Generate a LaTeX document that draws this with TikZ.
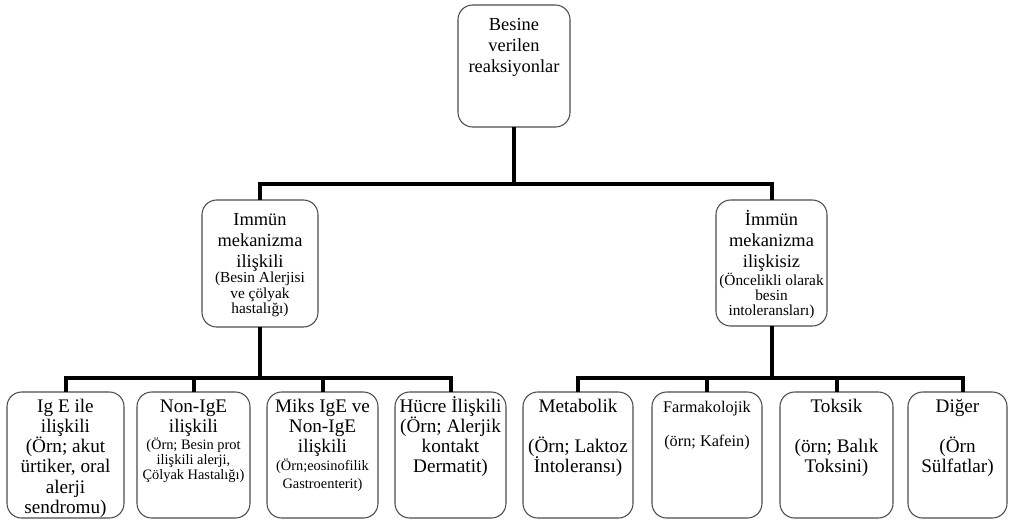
\documentclass[tikz,border=0pt]{standalone}
\usepackage{fontspec}
\setmainfont{Liberation Serif}
\tikzset{
  bx/.style={draw=black!70, line width=0.8pt, rounded corners=11pt, inner sep=0pt, outer sep=0pt, fill=white},
  conn/.style={line width=3pt, line join=miter, draw=black},
}
\newcommand\bigf{\fontsize{13.8}{16}\selectfont}
\newcommand\botf{\fontsize{14.4}{15.2}\selectfont}
\newcommand\smf{\fontsize{11.5}{11.4}\selectfont}
\newcommand\smb{\fontsize{10.8}{11.3}\selectfont}
\newcommand\boxat[6]{\node[bx] (#1) at ({(#2+#4)/2},{(#3+#5)/2}) {\parbox[c][\dimexpr(#5pt-#3pt)*3/4\relax][t]{\dimexpr(#4pt-#2pt)*3/4\relax}{\centering #6}};}
\begin{document}
\begin{tikzpicture}[x=0.75pt,y=-0.75pt]
\useasboundingbox (0,0) rectangle (1010,522);
\boxat{top}{458}{5}{570}{127}{{\bigf\rule{0pt}{18.75pt}Besine\\verilen\\reaksiyonlar\par}}
\boxat{mid1}{202}{200}{318}{327}{{\bigf\rule{0pt}{18.75pt}Immün\\mekanizma\\ilişkili\par}{\smf(Besin Alerjisi\\ve çölyak\\hastalığı)\par}}
\boxat{mid2}{716}{200}{827}{326}{{\bigf\rule{0pt}{18.75pt}İmmün\\mekanizma\\ilişkisiz\par}{\smf(Öncelikli olarak\\besin\\intoleransları)\par}}
\boxat{b1}{7}{392}{124}{518}{{\botf\rule{0pt}{15pt}Ig E ile\\ilişkili\\(Örn; akut\\ürtiker, oral\\alerji\\sendromu)\par}}
\boxat{b2}{137}{392}{250}{518}{{\botf\rule{0pt}{15pt}Non-IgE\\ilişkili\par}{\smb(Örn; Besin prot\\ilişkili alerji,\\Çölyak Hastalığı)\par}}
\boxat{b3}{267}{392}{378}{518}{{\botf\rule{0pt}{15pt}Miks IgE ve\\Non-IgE\\ilişkili\par}{\fontsize{10.8}{13.5}\selectfont(Örn;eosinofilik\\Gastroenterit)\par}}
\boxat{b4}{395}{392}{506}{518}{{\botf\rule{0pt}{15pt}Hücre İlişkili\\(Örn; Alerjik\\kontakt\\Dermatit)\par}}
\boxat{b5}{523}{392}{633}{518}{{\botf\rule{0pt}{15pt}Metabolik\\[15.2pt](Örn; Laktoz\\İntoleransı)\par}}
\boxat{b6}{652}{392}{762}{518}{{\fontsize{12.2}{13}\selectfont\rule{0pt}{15pt}Farmakolojik\\[12.5pt](örn; Kafein)\par}}
\boxat{b7}{780}{392}{893}{518}{{\botf\rule{0pt}{15pt}Toksik\\[15.2pt](örn; Balık\\Toksini)\par}}
\boxat{b8}{908}{392}{1007}{518}{{\botf\rule{0pt}{15pt}Diğer\\[15.2pt](Örn\\Sülfatlar)\par}}
\coordinate (busA) at (514,184);
\coordinate (busL) at (260,378);
\coordinate (busR) at (771.5,378);
\draw[conn] (top.south) -- (top.south |- busA);
\draw[conn] (mid1.north) |- (top.south |- busA) -| (mid2.north);
\draw[conn] (mid1.south) -- (mid1.south |- busL);
\draw[conn] (b1.north) |- (mid1.south |- busL) -| (b4.north);
\draw[conn] (b2.north) -- (b2.north |- busL);
\draw[conn] (b3.north) -- (b3.north |- busL);
\draw[conn] (mid2.south) -- (mid2.south |- busR);
\draw[conn] (b5.north) |- (mid2.south |- busR) -| ([xshift=4pt]b8.north);
\draw[conn] (b6.north) -- (b6.north |- busR);
\draw[conn] (b7.north) -- (b7.north |- busR);
\end{tikzpicture}
\end{document}
